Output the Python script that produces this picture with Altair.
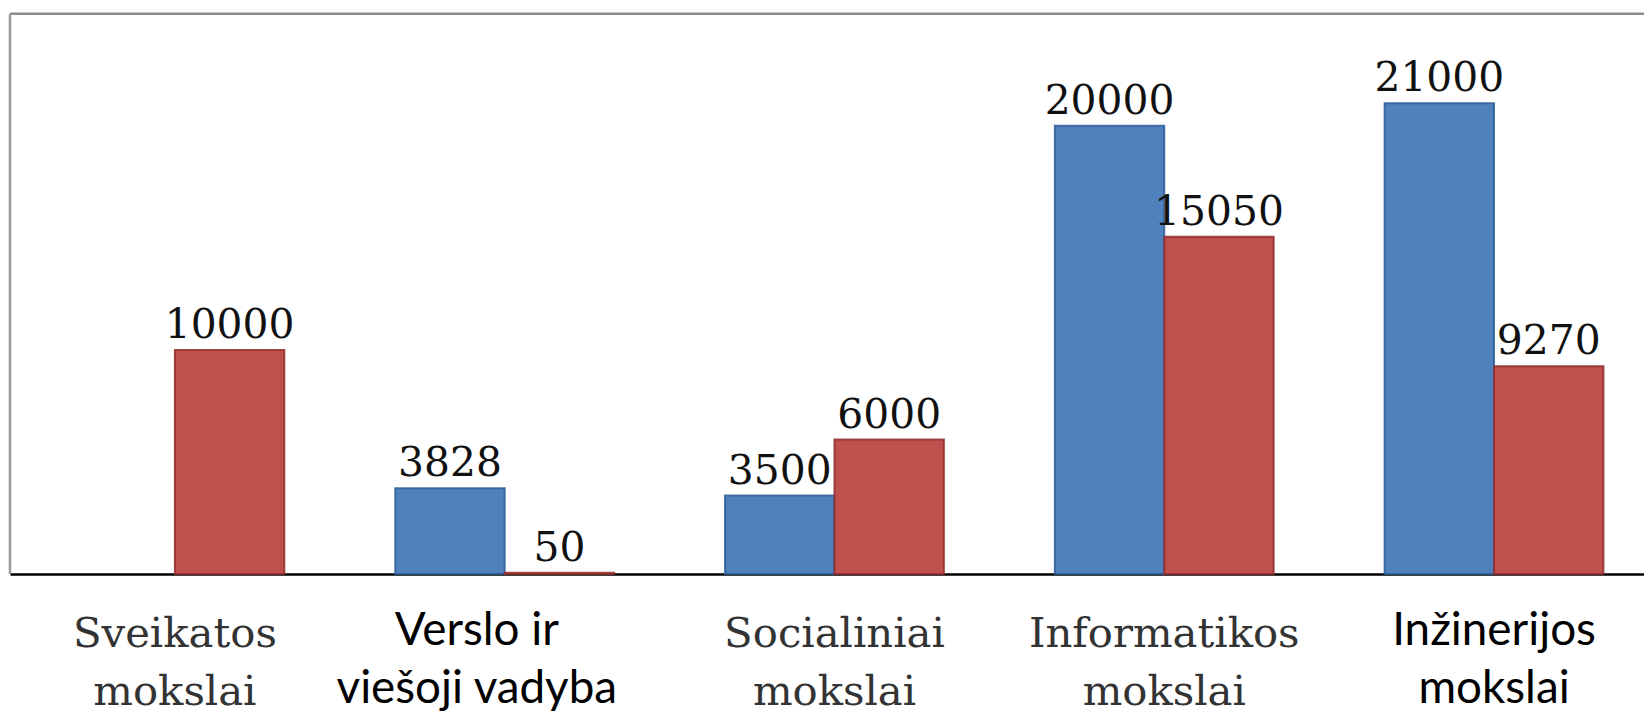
import altair as alt
import pandas as pd

# ---- data ----
categories = [
    "Sveikatos\nmokslai",
    "Verslo ir\nviešoji vadyba",
    "Socialiniai\nmokslai",
    "Informatikos\nmokslai",
    "Inžinerijos\nmokslai",
]
series_names = ["Serija 1", "Serija 2"]
blue_values = [None, 3828, 3500, 20000, 21000]
red_values = [10000, 50, 6000, 15050, 9270]

fill_colors = ["#4F81BD", "#C0504D"]
stroke_colors = ["#2C5C96", "#8E2D2A"]

rows = []
for cat, b, r in zip(categories, blue_values, red_values):
    if b is not None:
        rows.append({"cat": cat, "series": series_names[0], "value": b})
    if r is not None:
        rows.append({"cat": cat, "series": series_names[1], "value": r})
df = pd.DataFrame(rows)

W = 1642
H = 563

sans_test = "indexof(datum.value, 'Verslo') >= 0 || indexof(datum.value, 'Inž') >= 0"
shift_test = "indexof(datum.value, 'Verslo') >= 0"

x_enc = alt.X(
    "cat:N",
    sort=categories,
    scale=alt.Scale(range=[0, 1657], paddingInner=0, paddingOuter=0),
    axis=alt.Axis(
        title=None,
        labelExpr="split(datum.label, '\\n')",
        labelAngle=0,
        ticks=False,
        tickSize=0,
        domain=True,
        domainColor="#000000",
        domainWidth=2.5,
        grid=False,
        labelBaseline="top",
        labelLineHeight=58,
        labelLimit=0,
        labelOverlap=False,
        labelFlush=False,
        labelOffset={"condition": {"test": shift_test, "value": -28}, "value": 0},
        labelPadding={"condition": {"test": sans_test, "value": 35}, "value": 40},
        labelFont={"condition": {"test": sans_test, "value": "Lato"}, "value": "DejaVu Serif"},
        labelFontSize={"condition": {"test": sans_test, "value": 46}, "value": 42},
        labelColor={"condition": {"test": sans_test, "value": "#000000"}, "value": "#333333"},
    ),
)
xoff_enc = alt.XOffset(
    "series:N", sort=series_names,
    scale=alt.Scale(paddingInner=0, paddingOuter=0.507),
)
y_enc = alt.Y("value:Q", scale=alt.Scale(domain=[0, 25000], nice=False, zero=True), axis=None)

base = alt.Chart(df).encode(x=x_enc, xOffset=xoff_enc, y=y_enc)

bars = base.mark_bar(strokeWidth=2, strokeOpacity=0.85).encode(
    color=alt.Color("series:N", scale=alt.Scale(domain=series_names, range=fill_colors), legend=None),
    stroke=alt.Stroke("series:N", scale=alt.Scale(domain=series_names, range=stroke_colors), legend=None),
)

labels = base.mark_text(
    font="DejaVu Serif", fontSize=41, dy=-12, baseline="alphabetic", align="center", color="#111111"
).encode(text=alt.Text("value:Q", format="d"))

frame_df = pd.DataFrame({"k": [0]})
top_border = alt.Chart(frame_df).mark_rule(color="#8c8c8c", strokeWidth=2.5).encode(
    x=alt.value(0), x2=alt.value(W), y=alt.value(0)
)
left_border = alt.Chart(frame_df).mark_rule(color="#9a9a9a", strokeWidth=2.5).encode(
    x=alt.value(0), y=alt.value(0), y2=alt.value(H)
)

chart = (
    alt.layer(top_border, left_border, bars, labels)
    .properties(
        width=W,
        height=H,
        autosize=alt.AutoSizeParams(type="none"),
        padding={"left": 2, "top": 4, "right": 0, "bottom": 146},
        background="white",
    )
    .configure_view(stroke=None)
)

chart.save("out.html", embed_options={"renderer": "svg", "actions": False})
